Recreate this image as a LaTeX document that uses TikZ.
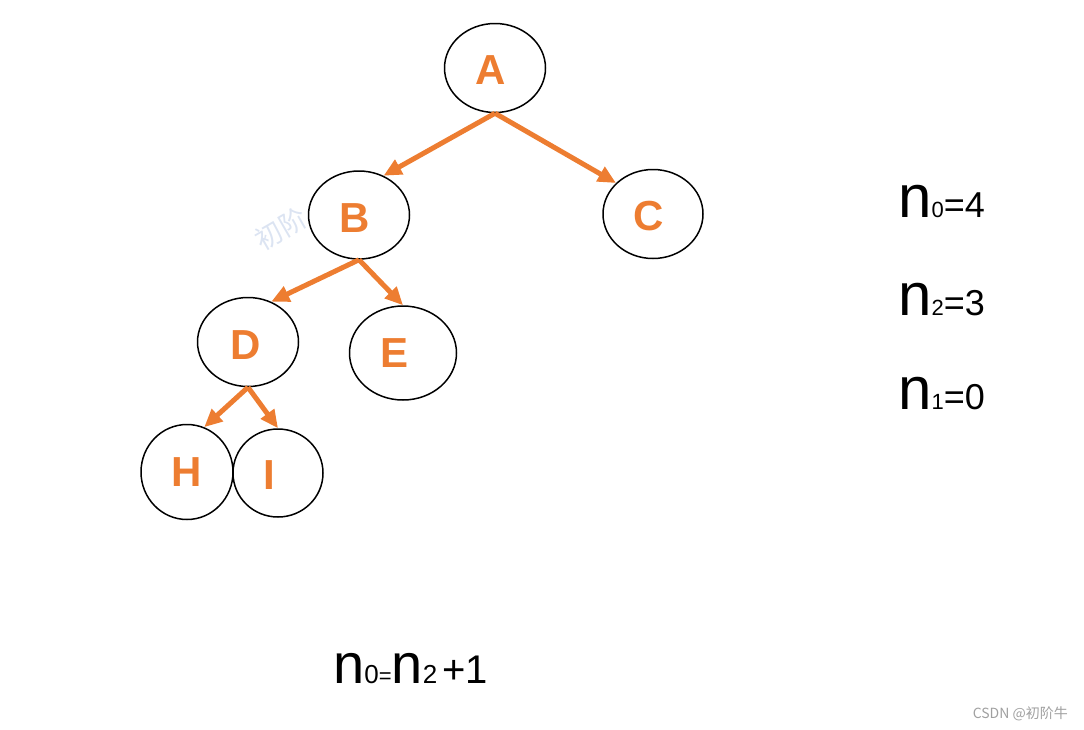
\documentclass[tikz,border=0pt]{standalone}
\usepackage{fontspec}
\setmainfont{Liberation Sans}
\newfontfamily\cjk{Noto Sans CJK SC}
\usetikzlibrary{shapes.geometric,arrows.meta}
\definecolor{treeorange}{HTML}{ED7D31}
\definecolor{marklight}{HTML}{DCE4F2}
\definecolor{markgray}{HTML}{A0A0A0}

\tikzset{
  vtx/.style={draw, ellipse, line width=1.5pt, inner sep=0pt},
  vname/.style={text=treeorange, font=\fontsize{42}{42}\selectfont\bfseries},
  edge/.style={draw=treeorange, line width=5pt, -{Triangle[length=18pt,width=16pt]}},
  count/.style={anchor=base west, inner sep=0pt}
}
\newcommand{\fs}[1]{\fontsize{#1}{#1}\selectfont}

\begin{document}
\begin{tikzpicture}[x=1pt,y=-1pt]
\useasboundingbox (0,0) rectangle (1084,729);

% tree
\node[vtx, minimum width=101pt, minimum height=89pt, label={[vname, xshift=-4pt, yshift=-2pt]center:A}] (A) at (495,68) {};
\node[vtx, minimum width=101pt, minimum height=88pt, label={[vname, xshift=-4pt, yshift=-3pt]center:B}] (B) at (359,215) {};
\node[vtx, minimum width=100pt, minimum height=89pt, label={[vname, xshift=-4pt, yshift=-2pt]center:C}] (C) at (653,214) {};
\node[vtx, minimum width=101pt, minimum height=89pt, label={[vname, xshift=-2pt, yshift=-3pt]center:D}] (D) at (248,342) {};
\node[vtx, minimum width=107pt, minimum height=94pt, label={[vname, xshift=-8pt]center:E}] (E) at (403,353) {};
\node[vtx, minimum width=92pt, minimum height=95pt, label={[vname]center:H}] (H) at (187,472) {};
\node[vtx, minimum width=90pt, minimum height=88pt, label={[vname, xshift=-9pt, yshift=-2pt]center:I}] (I) at (278,473) {};

\draw[edge] (A.south) -- (B.58);
\draw[edge] (A.south) -- (C.140);
\draw[edge] (B.south) -- (D.60);
\draw[edge] (B.south) -- (E.north);
\draw[edge] (D.south) -- (H.69);
\draw[edge] (D.south) -- (I.north);

% counts
\node[count] (cnt0) at (898,217) {\fs{60}n\fs{22}0\fs{36}=4};
\node[count] (cnt2) at (898,315) {\fs{60}n\fs{22}2\fs{36}=3};
\node[count] (cnt1) at (898,409) {\fs{60}n\fs{22}1\fs{36}=0};

% formula
\node[count] (rule) at (333,683) {\fs{56}n\fs{26}0\fs{22}=\fs{56}n\fs{26}2\hspace{5pt}\fs{40}+1};

% watermarks
\node[text=marklight, rotate=30, font=\cjk\fs{27}] (wm) at (281,229) {初阶};
\node[text=markgray, anchor=base east, inner sep=0pt, font=\cjk\fs{14}] (sig) at (1068,718) {CSDN @初阶牛};
\end{tikzpicture}
\end{document}
